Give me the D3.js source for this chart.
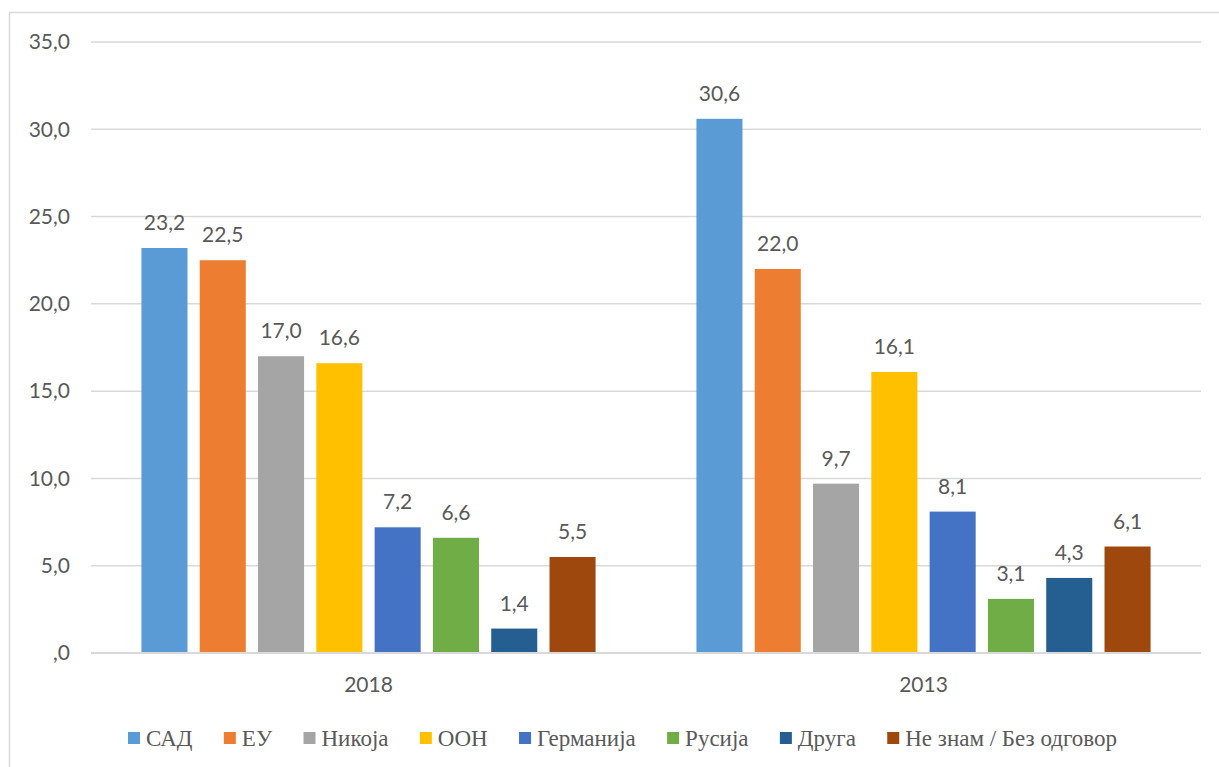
<!DOCTYPE html>
<html>
<head>
<meta charset="utf-8">
<script src="https://cdn.jsdelivr.net/npm/d3@7"></script>
<style>
  html, body { margin: 0; padding: 0; background: #fff; }
  svg { display: block; }
</style>
</head>
<body>
<svg id="chart" width="1219" height="767"></svg>
<script>
const years = ['2018', '2013'];
const series = ['САД', 'ЕУ', 'Никоја', 'ООН', 'Германија', 'Русија', 'Друга', 'Не знам / Без одговор'];
const values2018 = [23.2, 22.5, 17.0, 16.6, 7.2, 6.6, 1.4, 5.5];
const values2013 = [30.6, 22.0, 9.7, 16.1, 8.1, 3.1, 4.3, 6.1];
const colors = ['#5B9BD5', '#ED7D31', '#A5A5A5', '#FFC000', '#4472C4', '#70AD47', '#255E91', '#9E480E'];
const yTicks = [0, 5, 10, 15, 20, 25, 30, 35];

const valuesByYear = { '2018': values2018, '2013': values2013 };

const svg = d3.select('#chart');
const labelFont = 'Lato, "Open Sans", sans-serif';
const legendFont = 'Liberation Serif, DejaVu Serif, serif';
const textColor = '#595959';
const gridColor = '#d9d9d9';

// chart frame (runs past the right and bottom edges)
svg.append('rect')
  .attr('x', 9.5).attr('y', 12.5)
  .attr('width', 1240).attr('height', 800)
  .attr('fill', 'none')
  .attr('stroke', gridColor)
  .attr('stroke-width', 1.5);

const y = d3.scaleLinear().domain([0, 35]).range([653, 42]);

const x0 = d3.scaleBand().domain(years).range([91, 1201]).padding(0);

const x1 = d3.scaleBand()
  .domain(series)
  .range([0, x0.bandwidth()])
  .paddingInner(0.21)
  .paddingOuter(0.865);

const fmt = (d) => (d === 0 ? ',0' : d3.format('.1f')(d).replace('.', ','));

// gridlines
svg.append('g')
  .selectAll('line')
  .data(yTicks)
  .join('line')
  .attr('x1', 91).attr('x2', 1201)
  .attr('y1', (d) => y(d)).attr('y2', (d) => y(d))
  .attr('stroke', gridColor)
  .attr('stroke-width', 1.5);

// y axis labels
const yAxis = svg.append('g')
  .attr('transform', 'translate(70,0)')
  .call(d3.axisLeft(y).tickValues(yTicks).tickFormat(fmt).tickSize(0).tickPadding(0));
yAxis.select('.domain').remove();
yAxis.selectAll('text')
  .attr('font-family', labelFont)
  .attr('font-size', 21)
  .attr('fill', textColor);

// x axis labels
const xAxis = svg.append('g')
  .attr('transform', 'translate(0,653)')
  .call(d3.axisBottom(x0).tickSize(0).tickPadding(24));
xAxis.select('.domain').remove();
xAxis.selectAll('text')
  .attr('font-family', labelFont)
  .attr('font-size', 21)
  .attr('fill', textColor);

// bars
const groups = svg.append('g')
  .selectAll('g')
  .data(years)
  .join('g')
  .attr('transform', (d) => `translate(${x0(d)},0)`);

groups.selectAll('rect')
  .data((yr) => series.map((s, i) => ({ s, i, v: valuesByYear[yr][i] })))
  .join('rect')
  .attr('x', (d) => x1(d.s))
  .attr('width', x1.bandwidth())
  .attr('y', (d) => y(d.v))
  .attr('height', (d) => y(0) - y(d.v))
  .attr('fill', (d) => colors[d.i]);

groups.selectAll('text')
  .data((yr) => series.map((s, i) => ({ s, i, v: valuesByYear[yr][i] })))
  .join('text')
  .attr('x', (d) => x1(d.s) + x1.bandwidth() / 2)
  .attr('y', (d) => y(d.v) - 18)
  .attr('text-anchor', 'middle')
  .attr('font-family', labelFont)
  .attr('font-size', 21)
  .attr('fill', textColor)
  .text((d) => fmt(d.v));

// axis line at zero, drawn over bars
svg.append('line')
  .attr('x1', 91).attr('x2', 1201)
  .attr('y1', y(0)).attr('y2', y(0))
  .attr('stroke', gridColor)
  .attr('stroke-width', 2);

// legend
const legendLeft = 128, legendRight = 1117, sq = 12, sqGap = 6;
const legend = svg.append('g');
const items = legend.selectAll('g')
  .data(series)
  .join('g');

items.append('rect')
  .attr('y', 732)
  .attr('width', sq).attr('height', sq)
  .attr('fill', (d, i) => colors[i]);

items.append('text')
  .attr('x', sq + sqGap)
  .attr('y', 746)
  .style('font-family', legendFont)
  .style('font-size', '23px')
  .attr('fill', textColor)
  .text((d) => d);

const widths = [];
items.each(function () {
  widths.push(sq + sqGap + d3.select(this).select('text').node().getComputedTextLength());
});
const gap = (legendRight - legendLeft - d3.sum(widths)) / (series.length - 1);
let cx = legendLeft;
items.attr('transform', (d, i) => {
  const t = `translate(${cx},0)`;
  cx += widths[i] + gap;
  return t;
});
</script>
</body>
</html>
